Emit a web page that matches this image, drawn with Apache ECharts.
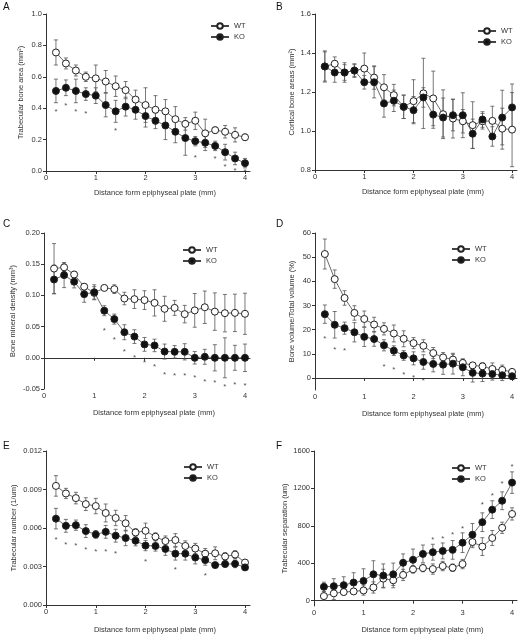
<!DOCTYPE html>
<html>
<head>
<meta charset="utf-8">
<script src="https://cdn.jsdelivr.net/npm/echarts@6/dist/echarts.min.js"></script>
<style>
  html, body { margin: 0; padding: 0; background: #fff; }
  #chart { width: 529px; height: 635px; }
</style>
</head>
<body>
<div id="chart"></div>
<script>
const dist = [0.2, 0.4, 0.6, 0.8, 1.0, 1.2, 1.4, 1.6, 1.8, 2.0, 2.2, 2.4, 2.6, 2.8, 3.0, 3.2, 3.4, 3.6, 3.8, 4.0];
const xTicks = [0, 1, 2, 3, 4];

// A - trabecular bone area
const aWT = [0.755, 0.685, 0.64, 0.60, 0.59, 0.57, 0.54, 0.515, 0.455, 0.42, 0.39, 0.38, 0.33, 0.30, 0.32, 0.24, 0.26, 0.25, 0.23, 0.215];
const aWTErr = [0.08, 0.035, 0.035, 0.03, 0.085, 0.07, 0.065, 0.055, 0.06, 0.11, 0.09, 0.075, 0.08, 0.04, 0.055, 0.09, 0.02, 0.04, 0.045, 0.02];
const aKO = [0.51, 0.53, 0.51, 0.49, 0.48, 0.42, 0.38, 0.41, 0.39, 0.35, 0.32, 0.29, 0.25, 0.21, 0.19, 0.18, 0.16, 0.12, 0.08, 0.05];
const aKOErr = [0.075, 0.05, 0.075, 0.04, 0.05, 0.075, 0.07, 0.06, 0.06, 0.07, 0.05, 0.09, 0.07, 0.11, 0.03, 0.05, 0.03, 0.05, 0.04, 0.03];
const aStars = [[0.2, 0.39], [0.4, 0.43], [0.6, 0.39], [0.8, 0.375], [1.4, 0.27], [3.0, 0.10], [3.4, 0.09], [3.6, 0.04], [3.8, 0.015], [4.0, 0.01]];

// B - cortical bone area
const bWT = [1.331, 1.345, 1.30, 1.31, 1.32, 1.274, 1.224, 1.184, 1.124, 1.153, 1.193, 1.167, 1.086, 1.064, 1.05, 1.03, 1.05, 1.052, 1.012, 1.007];
const bWTErr = [0.08, 0.035, 0.04, 0.035, 0.08, 0.06, 0.065, 0.055, 0.06, 0.11, 0.18, 0.14, 0.125, 0.1, 0.06, 0.12, 0.04, 0.075, 0.105, 0.19];
const bKO = [1.331, 1.30, 1.30, 1.31, 1.25, 1.25, 1.141, 1.155, 1.124, 1.107, 1.172, 1.084, 1.069, 1.081, 1.081, 0.986, 1.059, 0.972, 1.069, 1.121];
const bKOErr = [0.075, 0.05, 0.05, 0.03, 0.035, 0.08, 0.07, 0.055, 0.06, 0.07, 0.05, 0.07, 0.1, 0.08, 0.115, 0.075, 0.04, 0.05, 0.14, 0.12];
const bStars = [];

// C - bone mineral density
const cWT = [0.143, 0.145, 0.1335, 0.114, 0.104, 0.112, 0.11, 0.095, 0.094, 0.0925, 0.088, 0.0785, 0.08, 0.07, 0.076, 0.081, 0.074, 0.0715, 0.072, 0.0705];
const cWTErr = [0.04, 0.007, 0.005, 0.005, 0.01, 0.004, 0.007, 0.01, 0.015, 0.015, 0.021, 0.02, 0.012, 0.014, 0.027, 0.026, 0.03, 0.03, 0.03, 0.033];
const cKO = [0.1255, 0.1325, 0.122, 0.102, 0.105, 0.0755, 0.062, 0.041, 0.034, 0.0215, 0.0198, 0.01, 0.0096, 0.0096, 0, 0.0016, 0, 0, 0, 0];
const cKOErr = [0.023, 0.02, 0.01, 0.013, 0.012, 0.008, 0.008, 0.012, 0.011, 0.011, 0.01, 0.012, 0.01, 0.013, 0.01, 0.012, 0.021, 0.032, 0.02, 0.022];
const cStars = [[1.2, 0.046], [1.4, 0.0326], [1.6, 0.0134], [1.8, 0.0037], [2.0, -0.005], [2.2, -0.012], [2.4, -0.024], [2.6, -0.025], [2.8, -0.025], [3.0, -0.029], [3.2, -0.036], [3.4, -0.037], [3.6, -0.043], [3.8, -0.04], [4.0, -0.042]];

// D - bone volume / total volume
const dWT = [51.3, 40.9, 33.1, 26.9, 24.4, 22.1, 20.3, 18.4, 16.2, 14.4, 13.3, 10.3, 8.5, 7.6, 6.2, 5.2, 4.8, 3.7, 3.3, 2.5];
const dWTErr = [6.2, 3.8, 3, 3, 3.3, 3, 2.5, 3.5, 3.3, 2.3, 2.5, 2.3, 2, 2.2, 1.5, 1.2, 1.5, 2.5, 2, 1];
const dKO = [26.4, 22, 20.6, 18.9, 17, 16.1, 13.5, 11.3, 9.3, 8.1, 6.6, 5.8, 5.5, 5.9, 4.4, 2.1, 1.8, 1.6, 1.1, 0.7];
const dKOErr = [3.8, 5.5, 2.5, 4, 4, 3, 2.3, 2, 2, 2.7, 3, 3.3, 4, 4.3, 3.5, 3.8, 3.3, 2.5, 2.2, 1.3];
const dStars = [[0.2, 16.9], [0.4, 12.4], [0.6, 11.9], [1.4, 5.6], [1.6, 4.1], [1.8, 2.1], [2.0, 0.7], [2.2, -0.4]];
const dTicks = [0, 10, 20, 30, 40, 50, 60];

// E - trabecular number
const eWT = [0.00928, 0.00869, 0.00833, 0.00786, 0.00771, 0.00717, 0.00678, 0.00637, 0.00565, 0.00578, 0.00532, 0.00498, 0.00506, 0.0046, 0.0044, 0.004, 0.00403, 0.00378, 0.00393, 0.00331];
const eWTErr = [0.0008, 0.0004, 0.00045, 0.0005, 0.0006, 0.0007, 0.0006, 0.0006, 0.0003, 0.0006, 0.0003, 0.0004, 0.0005, 0.0004, 0.0004, 0.0004, 0.0005, 0.0003, 0.0003, 0.0002];
const eKO = [0.00673, 0.00617, 0.00622, 0.00576, 0.0055, 0.0057, 0.0054, 0.00522, 0.00501, 0.00463, 0.0046, 0.00437, 0.004, 0.004, 0.0037, 0.0035, 0.00311, 0.00319, 0.00321, 0.00293];
const eKOErr = [0.0008, 0.0005, 0.0004, 0.0005, 0.0003, 0.0005, 0.0005, 0.0006, 0.0004, 0.0004, 0.0004, 0.0005, 0.0005, 0.0005, 0.0005, 0.0004, 0.0002, 0.0002, 0.0003, 0.0002];
const eStars = [[0.2, 0.00522], [0.4, 0.00483], [0.6, 0.00475], [0.8, 0.00442], [1.0, 0.00429], [1.2, 0.00434], [1.4, 0.00411], [2.0, 0.00352], [2.6, 0.00293], [3.2, 0.00242]];

// F - trabecular separation
const fWT = [49, 78, 92, 99, 109, 141, 236, 218, 275, 335, 349, 338, 370, 352, 391, 627, 578, 670, 779, 927];
const fWTErr = [45, 65, 30, 30, 50, 60, 100, 80, 60, 40, 40, 55, 50, 40, 50, 60, 95, 80, 60, 65];
const fKO = [148, 155, 166, 194, 211, 282, 268, 282, 405, 437, 500, 518, 532, 543, 620, 705, 839, 973, 1068, 1262];
const fKOErr = [50, 80, 90, 105, 130, 145, 125, 120, 95, 115, 95, 85, 85, 100, 105, 120, 100, 95, 95, 115];
const fStars = [[2.4, 670], [2.6, 684], [2.8, 730], [3.0, 789], [3.4, 1047], [3.6, 1145], [3.8, 1276], [4.0, 1455]];
const fTicks = [0, 400, 800, 1200, 1600];

const xName = "Distance form epiphyseal plate (mm)";
const FONT = "'Liberation Sans', Arial, sans-serif";
const INK = "#333";

const panels = [
  { letter: "A", grid: { left: 46, top: 14, width: 204, height: 157 }, lx: 3, ly: 2,
    yName: "Trabecular bone area (mm²)", yGap: 21, xGap: 18, min: 0, max: 1, interval: 0.2, dec: 1,
    legend: [210, 22], wt: aWT, wtErr: aWTErr, ko: aKO, koErr: aKOErr, stars: aStars },
  { letter: "B", grid: { left: 315, top: 14, width: 202, height: 156 }, lx: 276, ly: 2,
    yName: "Cortical bone areas (mm²)", yGap: 19, xGap: 18, min: 0.8, max: 1.6, interval: 0.2, dec: 1,
    legend: [477, 27], wt: bWT, wtErr: bWTErr, ko: bKO, koErr: bKOErr, stars: bStars },
  { letter: "C", grid: { left: 44, top: 233, width: 206, height: 156 }, lx: 3, ly: 219,
    yName: "Bone mineral density (mm³)", yGap: 27, xGap: 20, min: -0.05, max: 0.2, interval: 0.05, dec: 2,
    legend: [182, 246], wt: cWT, wtErr: cWTErr, ko: cKO, koErr: cKOErr, stars: cStars },
  { letter: "D", grid: { left: 315, top: 233, width: 202, height: 157 }, lx: 276, ly: 219,
    yName: "Bone volume/Total volume (%)", yGap: 19, xGap: 20, min: -5, max: 60, ticks: dTicks, dec: 0,
    legend: [451, 245], wt: dWT, wtErr: dWTErr, ko: dKO, koErr: dKOErr, stars: dStars },
  { letter: "E", grid: { left: 46, top: 451, width: 204, height: 156 }, lx: 3, ly: 441,
    yName: "Trabecular number (1/um)", yGap: 28, xGap: 21, min: 0, max: 0.012, interval: 0.003, dec: 3,
    legend: [183, 463], wt: eWT, wtErr: eWTErr, ko: eKO, koErr: eKOErr, stars: eStars },
  { letter: "F", grid: { left: 314, top: 451, width: 203, height: 157 }, lx: 276, ly: 441,
    yName: "Trabecular separation (um)", yGap: 24, xGap: 20, min: -57, max: 1600, ticks: fTicks, dec: 0,
    legend: [451, 464], wt: fWT, wtErr: fWTErr, ko: fKO, koErr: fKOErr, stars: fStars },
];

function errBar(params, api) {
  const x = api.value(0);
  const top = api.coord([x, api.value(2)]);
  const bot = api.coord([x, api.value(1)]);
  const style = { stroke: "#555", lineWidth: 0.8 };
  const w = 2;
  return {
    type: "group",
    children: [
      { type: "line", shape: { x1: top[0], y1: top[1], x2: bot[0], y2: bot[1] }, style },
      { type: "line", shape: { x1: top[0] - w, y1: top[1], x2: top[0] + w, y2: top[1] }, style },
      { type: "line", shape: { x1: bot[0] - w, y1: bot[1], x2: bot[0] + w, y2: bot[1] }, style },
    ],
  };
}

const grid = [], xAxis = [], yAxis = [], series = [], legend = [], graphic = [];

panels.forEach((p, i) => {
  grid.push(p.grid);

  xAxis.push({
    gridIndex: i, type: "value", min: 0, max: 4.1,
    name: xName, nameLocation: "middle", nameGap: p.xGap,
    nameTextStyle: { fontSize: 7.5, color: INK, fontFamily: FONT, padding: [0, 0, 0, 14] },
    axisLine: { show: true, lineStyle: { color: INK, width: 1 } },
    axisTick: { show: true, length: 3, customValues: xTicks, lineStyle: { color: INK } },
    axisLabel: { customValues: xTicks, fontSize: 7.5, color: INK, fontFamily: FONT, margin: 3 },
    splitLine: { show: false },
  });

  const yTickCfg = p.ticks ? { customValues: p.ticks } : {};
  yAxis.push({
    gridIndex: i, type: "value", min: p.min, max: p.max,
    interval: p.ticks ? undefined : p.interval,
    name: p.yName, nameLocation: "middle", nameGap: p.yGap,
    nameTextStyle: { fontSize: 7.5, color: INK, fontFamily: FONT },
    axisLine: { show: true, lineStyle: { color: INK, width: 1 } },
    axisTick: Object.assign({ show: true, length: 3, lineStyle: { color: INK } }, yTickCfg),
    axisLabel: Object.assign({
      fontSize: 7.5, color: INK, fontFamily: FONT, margin: 4,
      formatter: (v) => v.toFixed(p.dec),
    }, yTickCfg),
    splitLine: { show: false },
  });

  const groups = [
    { name: "WT", vals: p.wt, err: p.wtErr, fill: "#fff" },
    { name: "KO", vals: p.ko, err: p.koErr, fill: "#111" },
  ];

  groups.forEach((g) => {
    series.push({
      name: g.name + " err", type: "custom", xAxisIndex: i, yAxisIndex: i, z: 1,
      renderItem: errBar, encode: { x: 0, y: [1, 2] },
      data: dist.map((x, k) => [x, g.vals[k] - g.err[k], g.vals[k] + g.err[k]]),
    });
  });
  groups.forEach((g) => {
    series.push({
      name: g.name, type: "line", xAxisIndex: i, yAxisIndex: i, z: 3,
      symbol: "circle", symbolSize: 7,
      lineStyle: { color: "#444", width: 0.8 },
      itemStyle: { color: g.fill, borderColor: "#222", borderWidth: 1 },
      data: dist.map((x, k) => [x, g.vals[k]]),
    });
  });

  if (p.stars.length) {
    series.push({
      name: "sig", type: "scatter", xAxisIndex: i, yAxisIndex: i, z: 4,
      symbolSize: 1, itemStyle: { color: "rgba(0,0,0,0)" },
      label: { show: true, formatter: "*", position: "inside", offset: [0, 2], fontSize: 8, color: "#222", fontFamily: FONT },
      data: p.stars,
    });
  }

  legend.push({
    data: ["WT", "KO"], orient: "vertical", left: p.legend[0], top: p.legend[1],
    padding: 0, itemWidth: 18, itemHeight: 7, itemGap: 3, selectedMode: false,
    textStyle: { fontSize: 7.5, color: INK, fontFamily: FONT },
  });

  graphic.push({
    type: "text", left: p.lx, top: p.ly,
    style: { text: p.letter, fontSize: 10, fill: "#111", fontFamily: FONT },
  });
});

const chart = echarts.init(document.getElementById("chart"), null, { renderer: "canvas" });
chart.setOption({
  backgroundColor: "#fff",
  animation: false,
  grid, xAxis, yAxis, series, legend, graphic,
});
</script>
</body>
</html>
